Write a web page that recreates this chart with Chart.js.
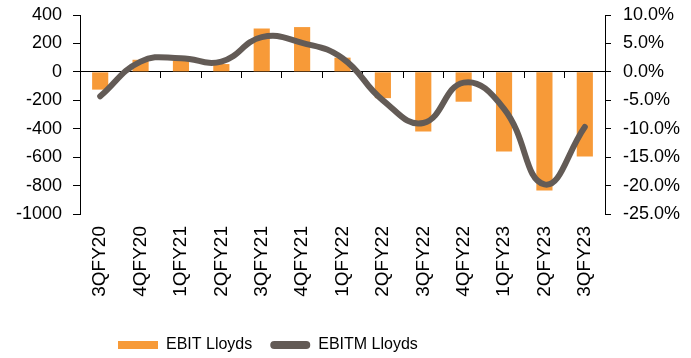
<!DOCTYPE html>
<html>
<head>
<meta charset="utf-8">
<script src="https://cdn.jsdelivr.net/npm/chart.js@4"></script>
<style>
  html, body { margin: 0; padding: 0; background: #fff; }
  #wrap { width: 691px; height: 358px; }
</style>
</head>
<body>
<div id="wrap"><canvas id="myChart" width="691" height="358"></canvas></div>
<script>
// data
const quarters = ['3QFY20','4QFY20','1QFY21','2QFY21','3QFY21','4QFY21','1QFY22','2QFY22','3QFY22','4QFY22','1QFY23','2QFY23','3QFY23'];
const ebit = [-125, 85, 80, 55, 305, 315, 100, -185, -420, -210, -560, -835, -595];
const ebitm = [-4.3, 1.8, 2.4, 1.8, 6.1, 5.1, 2.4, -5.0, -9.0, -1.9, -6.5, -19.8, -9.7];
const leftTicks = [400, 200, 0, -200, -400, -600, -800, -1000];
const rightTicks = [10, 5, 0, -5, -10, -15, -20, -25];

Chart.defaults.font.family = "'Liberation Sans', Arial, sans-serif";
Chart.defaults.color = '#000';

// move the legend where excel put it
const legendShift = {
  id: 'legendShift',
  afterLayout(chart) {
    chart.legend.left = 100;
    chart.legend.top = 319;
  }
};

// y axes: fixed width, no extra room for the end labels
function fitY(w) {
  return function(scale) {
    scale.width = w;
    scale.paddingTop = 0;
    scale.paddingBottom = 0;
  };
}

const data = {
  labels: quarters,
  datasets: [{
    type: 'bar',
    label: 'EBIT Lloyds',
    data: ebit,
    backgroundColor: '#F79A38',
    barPercentage: 0.4,
    categoryPercentage: 1,
    yAxisID: 'y',
    order: 1
  }, {
    type: 'line',
    label: 'EBITM Lloyds',
    data: ebitm,
    borderColor: '#635B56',
    backgroundColor: '#635B56',
    borderWidth: 6,
    borderCapStyle: 'round',
    pointRadius: 0,
    tension: 0.45,
    fill: false,
    yAxisID: 'y1',
    order: 0
  }]
};

const config = {
  type: 'bar',
  data,
  plugins: [legendShift],
  options: {
    responsive: false,
    animation: false,
    layout: { padding: { top: 15, left: 0, right: 0, bottom: 0 } },
    plugins: {
      tooltip: { enabled: false },
      legend: {
        position: 'bottom',
        align: 'start',
        labels: {
          boxWidth: 40,
          boxHeight: 8,
          padding: 18,
          font: { size: 16 },
          sort: (a, b) => a.datasetIndex - b.datasetIndex,
          generateLabels(chart) {
            const items = Chart.defaults.plugins.legend.labels.generateLabels(chart);
            items.forEach(i => {
              i.lineWidth = 0;
              if (i.datasetIndex === 1) i.borderRadius = 4;
            });
            return items;
          }
        }
      }
    },
    scales: {
      x: {
        grid: { display: false, drawTicks: false },
        border: { display: false },
        ticks: { minRotation: 90, maxRotation: 90, padding: 12, autoSkip: false, font: { size: 19 } },
        afterFit(scale) { scale.height = 100; }
      },
      x2: {
        type: 'category',
        labels: quarters,
        position: { y: 0 },
        offset: true,
        grid: { offset: true, drawOnChartArea: false, drawTicks: true, tickLength: 6, color: '#000' },
        border: { color: '#000', width: 1 },
        ticks: { display: false }
      },
      y: {
        position: 'left',
        min: -1000,
        max: 400,
        afterBuildTicks(scale) { scale.ticks = leftTicks.map(v => ({ value: v })); },
        grid: { drawOnChartArea: false, tickLength: 7, color: '#000' },
        border: { color: '#000' },
        ticks: { padding: 11, font: { size: 18 }, callback: v => String(v) },
        afterFit: fitY(80)
      },
      y1: {
        position: 'right',
        min: -25,
        max: 10,
        afterBuildTicks(scale) { scale.ticks = rightTicks.map(v => ({ value: v })); },
        grid: { drawOnChartArea: false, tickLength: 6, color: '#000' },
        border: { color: '#000' },
        ticks: {
          padding: 12,
          font: { size: 18 },
          callback: v => v.toFixed(1) + '%'
        },
        afterFit: fitY(86)
      }
    }
  }
};

const myChart = new Chart(document.getElementById('myChart'), config);
</script>
</body>
</html>
